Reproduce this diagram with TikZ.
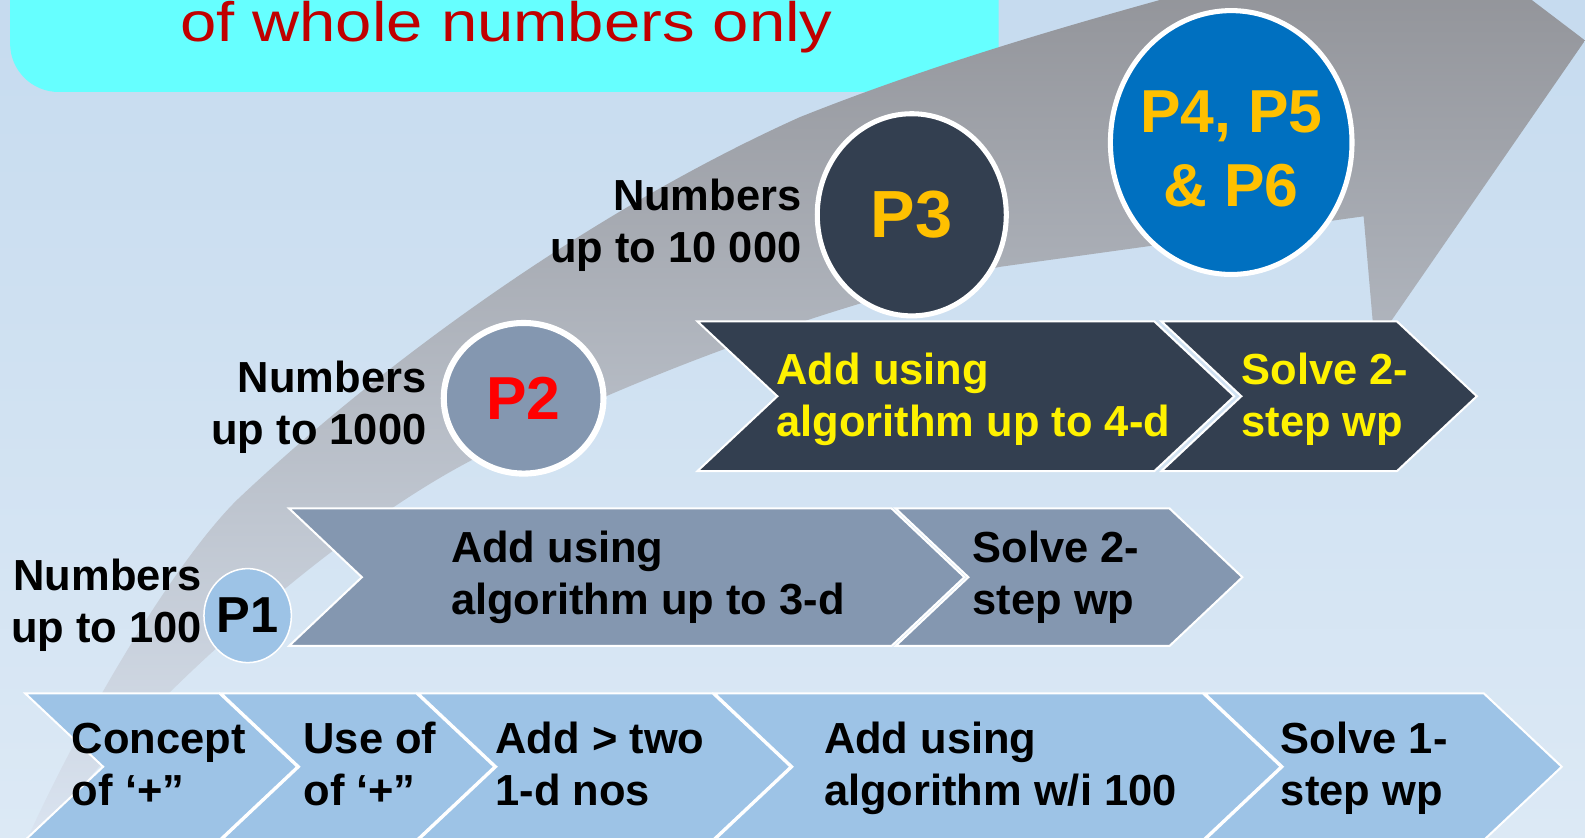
\documentclass[tikz,border=0pt]{standalone}
\usepackage{fontspec}
\setmainfont{Liberation Sans}
\usetikzlibrary{shapes.geometric}
\definecolor{bgtop}{HTML}{C6DBEF}
\definecolor{bgmid}{HTML}{B4D2EB}
\definecolor{bgbot}{HTML}{DCE9F5}
\definecolor{cyanbox}{HTML}{66FFFF}
\definecolor{titlered}{HTML}{C00000}
\definecolor{lightchev}{HTML}{9DC3E6}
\definecolor{midchev}{HTML}{8497B0}
\definecolor{darkchev}{HTML}{333F50}
\definecolor{gold}{HTML}{FFC000}
\definecolor{pblue}{HTML}{0070C0}
\definecolor{arrtop}{HTML}{8D8E93}
\definecolor{arrmid}{HTML}{ACB2BF}
\definecolor{arrbot}{HTML}{DAE4F1}
\newcommand{\twoline}[3]{\begin{tabular}[t]{@{}#1@{}}#2\\#3\end{tabular}}
\newcommand{\chevshape}[6]{\filldraw[#1] (#2,#4) -- (#3,#4) -- ({#3+#6},{(#4+#5)/2}) -- (#3,#5) -- (#2,#5) -- ({#2+#6},{(#4+#5)/2}) -- cycle;}
\tikzset{
  lbl/.style={font=\bfseries\fontsize{43}{52}\selectfont, inner sep=0pt},
  chevlight/.style={fill=lightchev, draw=white, line width=2pt, line join=miter},
  chevmid/.style={fill=midchev, draw=white, line width=2pt, line join=miter},
  chevdark/.style={fill=darkchev, draw=white, line width=2pt, line join=miter},
  pcirc/.style={ellipse, draw=white, inner sep=0pt, font=\bfseries},
}
\begin{document}
\begin{tikzpicture}[x=1pt,y=-1pt]
\useasboundingbox (0,0) rectangle (1568,829);
\clip (0,0) rectangle (1568,829);
% background
\shade[top color=bgtop, middle color=bgmid, bottom color=bgbot] (0,0) rectangle (1568,829);
% title box
\fill[cyanbox, rounded corners=48pt] (10,-80) -- (10,91) -- (988,91) -- (988,-80) -- cycle;
\node[font=\fontsize{55}{66}\selectfont, text=titlered, anchor=base west, inner sep=0pt, xscale=1.173, transform shape] (title) at (178,41) {of whole numbers only};
% big curved arrow
\shade[top color=arrtop, middle color=arrmid, bottom color=arrbot]
  (26,832) .. controls (86,700) and (174,555) .. (234,495)
  .. controls (384,353) and (591,206) .. (791,116)
  .. controls (941,56) and (1100,12.5) .. (1250,-28)
  -- (1410,-80) -- (1568,40) -- (1360,341) -- (1349,214) -- (989,264)
  .. controls (789,308) and (574,396) .. (454,462)
  .. controls (304,544.5) and (110,727) .. (40,832)
  -- cycle;
% bottom row chevrons
\chevshape{chevlight}{25}{217}{686}{831}{77}
\chevshape{chevlight}{219}{412}{686}{831}{77}
\chevshape{chevlight}{414}{705}{686}{831}{77}
\chevshape{chevlight}{707}{1190}{686}{831}{77}
\chevshape{chevlight}{1192}{1468}{686}{831}{77}
% middle row chevrons
\chevshape{chevmid}{286}{882}{503}{639}{72}
\chevshape{chevmid}{886}{1157}{503}{639}{72}
% top row chevrons
\chevshape{chevdark}{690}{1142}{318}{466}{79}
\chevshape{chevdark}{1149}{1382}{318}{466}{79}
% circles
\node[pcirc, line width=1.5pt, fill=lightchev, minimum width=79pt, minimum height=93pt, font=\bfseries\fontsize{50}{60}\selectfont] (p1) at (245,609) {P1};
\node[pcirc, line width=6pt, fill=midchev, minimum width=158pt, minimum height=149pt, text=red, font=\bfseries\fontsize{60}{72}\selectfont] (p2) at (518,394) {P2};
\node[pcirc, line width=5pt, fill=darkchev, minimum width=187pt, minimum height=200pt, text=gold, font=\bfseries\fontsize{66}{79}\selectfont] (p3) at (902,212.5) {P3};
\node[pcirc, line width=5pt, fill=pblue, minimum width=239pt, minimum height=261pt] (p4) at (1218,141) {};
\node[text=gold, align=center, inner sep=0pt, font=\bfseries\fontsize{60}{73}\selectfont] (p4t) at (1218,147) {P4, P5\\\& P6};
% side labels
\node[lbl, anchor=base east] (n1) at (200,584) {\twoline{r}{Numbers}{up to 100}};
\node[lbl, anchor=base east] (n2) at (422,388) {\twoline{r}{Numbers}{up to 1000}};
\node[lbl, anchor=base east] (n3) at (793,208) {\twoline{r}{Numbers}{up to 10 000}};
% bottom row texts
\node[lbl, anchor=base west] (b1) at (71,745) {\twoline{l}{Concept}{of ‘+”}};
\node[lbl, anchor=base west] (b2) at (300,745) {\twoline{l}{Use of}{of ‘+”}};
\node[lbl, anchor=base west] (b3) at (490,745) {\twoline{l}{Add > two}{1-d nos}};
\node[lbl, anchor=base west] (b4) at (815,745) {\twoline{l}{Add using}{algorithm w/i 100}};
\node[lbl, anchor=base west] (b5) at (1267,745) {\twoline{l}{Solve 1-}{step wp}};
% middle row texts
\node[lbl, anchor=base west] (m1) at (446,556) {\twoline{l}{Add using}{algorithm up to 3-d}};
\node[lbl, anchor=base west] (m2) at (962,556) {\twoline{l}{Solve 2-}{step wp}};
% top row texts
\node[lbl, anchor=base west, text=yellow] (t1) at (768,380) {\twoline{l}{Add using}{algorithm up to 4-d}};
\node[lbl, anchor=base west, text=yellow] (t2) at (1228,380) {\twoline{l}{Solve 2-}{step wp}};
\end{tikzpicture}
\end{document}
